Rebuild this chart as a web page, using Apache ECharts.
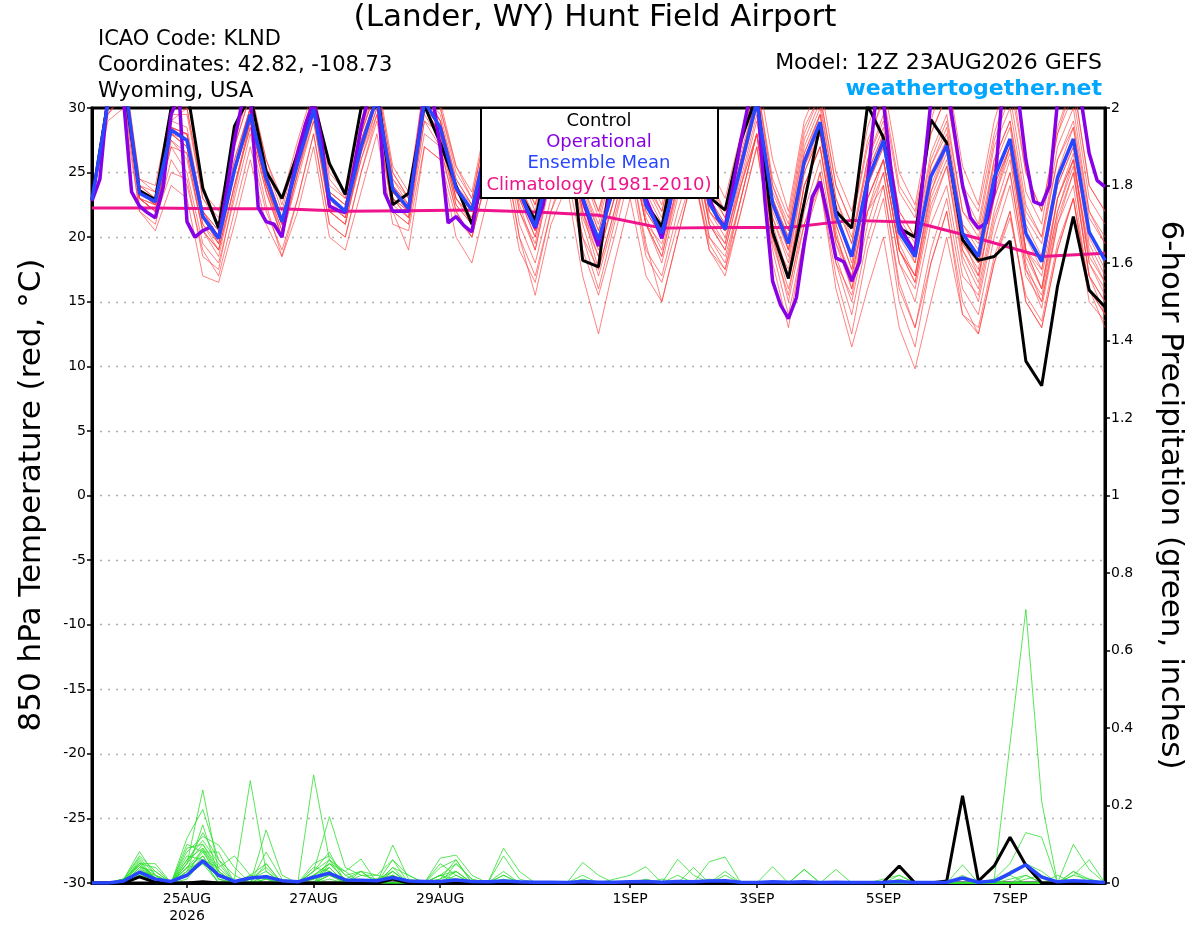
<!DOCTYPE html>
<html><head><meta charset="utf-8">
<script src="https://cdn.jsdelivr.net/npm/echarts@6/dist/echarts.min.js"></script>
<style>html,body{margin:0;padding:0;background:#fff}#c{width:1200px;height:927px}</style>
</head><body><div id="c"></div>
<script>
// ---------------- DATA ----------------
const STEP6 = 6, STEP3 = 3;           // hours between points
const tickHours = [36, 84, 132, 204, 252, 300, 348];
const tickLabels = ['25AUG\n2026', '27AUG', '29AUG', '1SEP', '3SEP', '5SEP', '7SEP'];

const controlT = [22.9,30.5,32,23.6, 22.9,30,31.5,23.8, 20.7,28.6,31,25.1, 23.0,26.5,30.5,25.7, 23.3,30,31.5,22.5, 23.4,30.2,27.3,24.0, 21.0,26,29,23.5, 21.3,27,30,18.2, 17.7,27,30,22.6, 20.8,27,29.5,23.1, 22.1,27.5,31,20.4, 16.8,22.7,28.7,22.0, 20.7,30.2,27.7,20.7, 20.0,29.1,27.3,19.8, 18.2,18.5,19.7,10.4, 8.5,16.2,21.6,15.9, 14.6];
const meanT = [22.9,30.3,32.6,23.4, 22.75,28.3,27.5,21.6, 19.9,25.2,29.5,24.6, 21.2,25.8,29.9,23.1, 22.0,27.0,30.8,23.7, 22.2,30.5,28.5,23.8, 22.1,27.5,29.5,23.5, 20.8,26,28.5,23, 19.8,24,28,22.5, 20.3,25,28,22.6, 20.6,25.5,30.5,22.6, 19.5,25.85,28.9,21.7, 18.5,24.4,27.5,20.4, 18.5,24.7,27.1,20.3, 18.5,24.6,27.6,20.3, 18.1,24.6,27.6,20.4, 18.2];
// operational run, 3-hourly
const operT = [22.8,24.5,31,32.5,30.5,23.5,22.4,21.9, 21.5,23.9,29.5,31,21.2,20.0,20.5,20.8, 19.9,23.5,27.5,30.5,31,22.3,21.2,21.0, 20.0,23.5,26.5,28.8,30.5,27.5,22.4,22.1, 21.9,25,28.5,31,32,23.4,22.0,22.0, 22.0,26.5,31,31,26.9,21.1,21.6,20.9, 20.4,24,27,29,29.5,27,23.8,22.0, 20.7,22.5,26,28.5,29.5,27,23,21, 19.3,22,25.5,28.5,29.5,27,23,21.5, 19.9,22.5,25.5,28.5,29.5,27,23,21.5, 20.8,24,27.5,30.5,31.5,23,16.6,14.75, 13.7,15.3,19.5,23.1,24.3,21.5,18.4,18.1, 16.6,18.1,24.3,30.5,30.5,25,21,19.8, 18.8,24.5,30.5,32,32,28,24,21.5, 20.7,21.1,23.5,31,32,31,26,22.75, 22.5,24.0,30.5,32,32,30.5,26.5,24.4, 23.9];
// climatology, daily at 12Z
const climHours = [0,24,48,72,96,120,144,168,192,216,240,264,288,312,336,360,384];
const climT = [22.25,22.25,22.2,22.2,22.0,22.05,22.1,21.95,21.7,20.7,20.75,20.75,21.3,21.15,19.9,18.5,18.75];

const tempM01 = [23,31,33,24, 23.5,29,30,23, 21,27,31,25.5, 22,27,31,24, 23,28,32,25, 23,31,30,25, 23,29,31,25, 22,28,30,25, 22,26,30,24, 22,27,30,24, 22,27,32,24, 21,28,31,24, 21,27,31,24, 22,28,31,24, 22,28,32,25, 22,28,32,24, 22];
const tempM02 = [22.8,29.5,31,22, 21,26,24,19, 17,22,27,22, 19,23,28,21, 20,25,29,22, 21,28,27,22, 20,25,28,21, 18,23,26,20, 16,21,26,19, 17,22,26,20, 18,23,28,20, 15,21,25,18, 14,20,24,16, 13,19,23,16, 14,20,24,17, 15,21,25,17, 15];
const tempM03 = [22.9,30,32,23, 22,28,27,21, 19,25,29,24, 20.5,25,30,22.5, 21.5,27,31,23, 22,30,28,23, 21.5,27,29,23, 20,26,28,22, 19,23,27,21, 19.5,24,27,21.5, 19.5,25,30,21.5, 18,25,28,20, 17,23,26,19, 16.5,23,26,19, 17,23,27,19, 16,23,26,19, 16.5];
const tempM04 = [23,30.5,33,24, 23,29,28.5,22, 20.5,26,30,25, 21.5,26.5,30.5,23.5, 22.5,27.5,31,24.5, 22.5,31,29,24.5, 22.5,28,30,24, 21.5,27,29.5,24, 20.5,25,29,23.5, 21,26,29,23.5, 21.5,26.5,31,23.5, 20.5,27,30,23, 20,26,29,22, 20,26,29,22, 20,26,29,22, 20,26,29,22, 20];
const tempM05 = [22.8,29,30,22, 20.5,24,23,17, 16.5,21,26,21, 18.5,22,27,20, 19,23.5,28,21, 20.5,27,26,21.5, 20,25,27,20, 17,22,25,19, 15.5,20,25,18.5, 16.5,21,25,19.5, 17.5,22,27,19, 14,20,24,17, 12.5,19,23,15, 11.5,18,22,14, 13,18.5,22,15, 13,19,23,15, 13.5];
const tempM06 = [23,30,32.5,23.5, 22.5,28,28,22, 20,25.5,30,25, 21,26,30.5,23, 22,28,31.5,24, 22,31.5,29,24, 22,28.5,30,23.5, 20.5,27,29,23, 19.5,25,29,22.5, 20,26,29,22, 20.5,26,31,23, 19,26,29.5,22, 18,25,28,21, 18,25.5,28.5,21, 19,26,29,21, 18.5,25,28.5,20.5, 18];
const tempM07 = [22.9,30.5,32,23, 22,27.5,26,20.5, 18.5,24,29,24, 20,25,29.5,22, 21,26.5,30.5,23, 21.5,30,28,23, 21,27,29,22.5, 19,25,28,22, 17.5,22,27,21, 18.5,23.5,27.5,21, 19.5,24.5,29.5,21, 17,24,27,19.5, 16,22,25,18, 15,21,24,17, 15.5,21.5,25,17.5, 14.5,21,24,16, 14];
const tempM08 = [23,31,33.5,24.5, 23.5,29.5,29.5,23, 21.5,27,31,26, 22.5,27,31,24.5, 23,28.5,32,25, 23,32,30,25.5, 23,29,31,25, 22.5,28,31,25.5, 22,27,31,25, 22.5,28,31,25.5, 23,28,33,26, 22,29,32,25, 22,28.5,32,25, 22.5,29,33,25.5, 22.5,29,33,25, 22,28.5,32,24, 22];
const tempM09 = [22.8,30,32,23, 22.5,28,27,21.5, 19.5,25,29,24, 21,25.5,29.5,23, 21.5,26,30,23, 21.5,29,27,22, 20,25,27,20, 15.5,21,24,17, 12.5,18,23,17, 15,20,25,19, 17.5,23,28,20.5, 17,24,27,20, 16.5,23,26,19, 17,23.5,27,19.5, 17.5,24,27,19, 17,23,26,18, 16];
const tempM10 = [23,30,32.5,23.5, 22.5,28.5,27.5,21.5, 20,25,29.5,24.5, 21,26,30,23, 22,27,30.5,23.5, 22,30,28.5,23.5, 22,27.5,29.5,23, 21,26,28,22.5, 19.5,24,28,22, 20,25,28,22, 20,24,28,20, 16,21,24,16, 11.5,16,20,13, 9.8,15,20,14, 12.5,18,22,15, 13,19,23,16, 14];
const tempM11 = [22.9,30,32,23, 22,27,25,19.5, 18,23,28,22.5, 18.5,23,28,21, 20,25,29.5,22, 21,29,28,22.5, 21,26.5,28.5,22, 19.5,25,28,21.5, 18.5,23,27.5,21.5, 19,24,27.5,21, 19,24,29,21.5, 18.5,25,28,21, 17.5,24,27,20, 18,24.5,27.5,20, 17,23,26.5,19, 16,22,26,18.5, 16.5];
const tempM12 = [23,30.5,33,24, 23,28.5,28,22, 20.5,26,30,25, 21.5,26,30,23.5, 22.5,27.5,31,24, 22.5,31,29,24, 22.5,28,30,24, 21,26.5,29,23.5, 20.5,24.5,28.5,23, 20.5,25.5,28.5,23, 21,26,31,23, 20,26.5,29.5,22.5, 19.5,25.5,28.5,21.5, 19.5,25.5,28,21, 19.5,25.5,28.5,21.5, 19.5,26,28.5,21.5, 19.5];
const tempM13 = [22.8,29.5,31.5,23, 22,27,26.5,20.5, 19,24,28.5,23.5, 20,25,29,22, 21,26.5,30,22.5, 21.5,29.5,27.5,22.5, 21,26.5,28.5,22, 19,24.5,27,21, 17,21.5,26,19.5, 15,20,25,19, 17,22,27,19.5, 15.5,22,26,18.5, 15,21,25,18, 16,22,25.5,18, 15,21,25,17.5, 15.5,22,25.5,17, 15];
const tempM14 = [23,31,33,24.5, 24,30,30,23.5, 22,27.5,31.5,26, 23,27.5,31.5,25, 23.5,29,32.5,25.5, 23.5,32,30.5,25.5, 23.5,29.5,31.5,25.5, 22.5,28,30.5,25, 21.5,26.5,30.5,24.5, 22,27.5,30.5,24.5, 22,27.5,32,24.5, 21.5,28.5,31,24, 21,27.5,30.5,23.5, 21.5,28,31,23.5, 21,27.5,31,23.5, 21,28,31,23, 21];
const tempM15 = [22.9,30,32.5,23.5, 22.5,28,27,21, 19.5,25,29,24, 20.5,25.5,29.5,22.5, 21.5,27,30.5,23, 22,30,28,23, 21.5,27,29,23, 20,25.5,28,22, 18.5,23,27,21, 18,23,26.5,20, 18.5,23,28,20, 17.5,24,27,19.5, 17,23,26,19, 16.5,22.5,25.5,18.5, 16,22,26,18, 15,21.5,25,17, 14];
const tempM16 = [22.8,29.5,31,22.5, 21.5,25,24.5,18.5, 17.5,23.5,29,24, 21,26.5,30.5,23.5, 22.5,28,31.5,24.5, 23,31,29.5,24.5, 22.5,28.5,30,24, 21.5,27,29.5,24, 21,26,29.5,24, 21.5,27,30,24, 21.5,27,31.5,24, 20.5,27.5,30.5,23, 19.5,26,29.5,22, 20,26.5,29.5,22, 20.5,27,30,22.5, 20,27,30,22, 19.5];
const tempM17 = [23,30,32,23, 22.5,28,27.5,21.5, 19.5,25,29.5,24.5, 21,26,30,23, 22,27.5,31,24, 22.5,30.5,29,24, 22,28,30,23.5, 21,26.5,29,23, 20,24.5,28.5,22.5, 20.5,25.5,28.5,22.5, 20.5,26,30.5,22.5, 19,25.5,28,20.5, 16,22,24,16.5, 13,18,22,15, 12.5,18,21.5,15.5, 13.5,19.5,23,16, 13];
const tempM18 = [22.9,30.5,32.5,23.5, 23,28.5,28,22, 20,25.5,30,25, 21,26,30,23, 22,27,31,23.5, 22,30.5,28.5,23.5, 22,27.5,29.5,23.5, 20.5,26,28.5,23, 20,24,28,22.5, 20.5,25,28.5,23, 21,26,30.5,23, 20,26.5,29.5,22, 18.5,25,28,21, 18.5,25,27.5,20.5, 18,24.5,27.5,20, 17.5,24,27,20, 17.5];
const tempM19 = [22.8,30,32,23, 22,27.5,26.5,20.5, 19,24,28.5,23.5, 20,24.5,29,22, 21,26,29.5,22, 19,27,26,20, 18,23,26,19, 16.5,22,26,20, 17.5,22,27,21, 18.5,24,27,21, 19,24,28,18, 13,20,25,18, 15.5,22,26,19, 17,23.5,26.5,19.5, 18,24,27,19, 17.5,24,27,19.5, 17];
const tempM20 = [23,30,32.5,23.5, 22.5,28.5,28,21.5, 20,25,29.5,24.5, 21,26,30,23, 22,27,30.5,23.5, 22,30.5,28.5,23.5, 22,27.5,29.5,23.5, 20.5,26,28.5,22.5, 19.5,24,28,22, 20,25,28,22, 20.5,25.5,30,22, 19,25.5,28.5,21, 17.5,24,27,19.5, 17,24,27,19, 16.5,23.5,27,18.5, 16,23,26.5,18, 15.5];

const controlP = [0,0,0,0.016, 0.002,0,0,0.003, 0,0,0,0, 0,0,0,0, 0,0,0,0.01, 0,0,0,0, 0,0,0,0, 0,0,0,0, 0,0,0,0, 0,0,0,0, 0,0,0,0, 0,0,0,0, 0,0,0.002,0.044, 0,0,0.005,0.225, 0.005,0.044,0.118,0.046, 0,0,0,0, 0];
const meanP = [0,0,0.005,0.028, 0.01,0.004,0.02,0.057, 0.02,0.004,0.013,0.016, 0.006,0.003,0.015,0.025, 0.008,0.007,0.006,0.014, 0.005,0.004,0.004,0.008, 0.004,0.003,0.005,0.003, 0.002,0.002,0.001,0.004, 0.002,0.002,0.003,0.004, 0.002,0.004,0.003,0.005, 0.006,0.002,0.001,0.003, 0.002,0.003,0.001,0.002, 0.001,0.001,0.002,0.004, 0.001,0.001,0.002,0.013, 0.002,0.005,0.025,0.047, 0.015,0.003,0.006,0.004, 0.001];

const precM01 = [0,0,0.01,0.081, 0.02,0,0.05,0.24, 0.03,0,0.02,0.01, 0,0,0.02,0.05, 0.01,0,0,0.098, 0.01,0,0.02,0.01, 0,0,0.03,0, 0,0,0,0, 0,0,0,0.01, 0,0,0,0, 0,0,0,0, 0,0,0,0, 0,0,0,0, 0,0,0,0, 0,0,0.01,0.02, 0,0,0,0, 0];
const precM02 = [0,0,0.005,0.06, 0.01,0,0.116,0.19, 0.06,0.02,0,0.137, 0.02,0,0.01,0.03, 0,0.02,0.01,0.03, 0,0,0.05,0.02, 0,0,0.09,0.03, 0,0,0,0.053, 0.02,0,0,0, 0,0,0,0, 0,0,0,0, 0,0,0,0, 0,0,0,0, 0,0,0,0.047, 0,0.01,0.05,0.13, 0.118,0,0.03,0.01, 0];
const precM03 = [0,0,0.01,0.05, 0.04,0,0.03,0.15, 0.02,0.01,0.264,0.03, 0,0,0,0.02, 0.01,0.03,0,0.02, 0,0,0.064,0.072, 0.02,0,0,0, 0,0,0,0, 0,0.01,0.02,0.042, 0,0.061,0.02,0, 0.03,0,0,0, 0,0,0,0, 0,0,0,0, 0,0,0,0, 0,0.01,0.36,0.706, 0.21,0,0,0, 0];
const precM04 = [0,0,0,0.04, 0.01,0,0.08,0.12, 0.098,0.04,0,0.08, 0.01,0,0.279,0.06, 0.03,0.062,0,0.01, 0,0,0.01,0.06, 0,0,0.07,0.01, 0,0,0,0.02, 0,0,0,0, 0,0,0,0.055, 0.067,0,0,0, 0,0,0,0, 0,0,0,0, 0,0,0,0, 0,0,0,0.02, 0,0,0.1,0.035, 0];
const precM05 = [0,0,0.005,0.03, 0.02,0,0.05,0.1, 0.04,0.07,0.02,0.05, 0,0,0.03,0.171, 0.04,0.02,0.02,0.06, 0,0,0,0.05, 0.01,0,0,0, 0,0,0,0, 0,0,0,0, 0.01,0,0,0, 0,0,0,0.042, 0,0,0,0, 0,0,0,0, 0,0,0,0.01, 0,0,0.03,0.05, 0.03,0,0.02,0.06, 0];
const precM06 = [0,0,0,0.02, 0,0,0.03,0.08, 0.08,0,0,0, 0,0,0.05,0.07, 0.02,0.03,0,0.04, 0.02,0,0,0.03, 0,0,0.02,0, 0,0,0,0, 0,0,0,0, 0,0,0.04,0, 0,0,0,0, 0,0.035,0,0.035, 0,0,0,0, 0,0,0,0, 0,0,0,0, 0,0,0,0, 0];
const precM07 = [0,0,0.01,0.07, 0.03,0,0.06,0.11, 0.05,0,0.01,0.02, 0,0,0.04,0.03, 0,0,0.01,0.02, 0,0,0,0.01, 0,0,0,0, 0,0,0,0, 0,0,0,0, 0,0,0,0, 0,0,0,0, 0,0,0,0, 0,0,0,0.02, 0,0,0,0.02, 0,0,0,0, 0,0,0,0, 0];
const precM08 = [0,0,0,0.035, 0.015,0,0.02,0.09, 0.03,0,0.01,0.04, 0,0,0.02,0.04, 0,0.03,0.02,0.01, 0,0,0.04,0.06, 0,0,0.02,0, 0,0,0,0, 0,0,0,0, 0,0.02,0,0.01, 0,0,0,0, 0,0.035,0,0, 0,0,0,0, 0,0,0,0, 0,0,0,0, 0,0,0.03,0, 0];
const precM09 = [0,0,0,0.05, 0.01,0,0.1,0.08, 0.02,0,0,0.02, 0,0,0.03,0.06, 0,0,0,0, 0,0,0.02,0.05, 0.01,0,0,0, 0,0,0,0, 0,0,0,0, 0,0,0,0, 0,0,0,0, 0,0,0,0, 0,0,0,0, 0,0,0,0, 0,0,0,0.01, 0.02,0,0,0, 0];
const precM10 = [0,0,0.01,0.045, 0.02,0,0.04,0.07, 0.01,0,0.02,0, 0,0,0,0.05, 0.01,0,0,0.06, 0.02,0,0,0, 0,0,0.01,0, 0,0,0,0.01, 0,0,0,0, 0,0,0,0, 0,0,0,0, 0,0,0,0, 0,0,0,0, 0,0,0,0, 0,0,0,0, 0,0,0,0, 0];
const precM11 = [0,0,0,0.025, 0,0,0.07,0.06, 0.04,0,0,0, 0,0,0.01,0.04, 0,0,0,0.03, 0,0,0,0, 0,0,0,0, 0,0,0,0, 0,0,0,0, 0,0,0,0, 0.02,0,0,0, 0,0,0,0, 0,0,0,0.01, 0,0,0,0, 0,0,0,0, 0,0,0,0, 0];
const precM12 = [0,0,0.005,0.055, 0.01,0,0.05,0.13, 0.06,0,0,0.02, 0,0,0.02,0.05, 0.03,0,0,0.02, 0,0,0.01,0.03, 0,0,0,0, 0,0,0,0, 0,0,0,0, 0,0,0,0, 0,0,0,0, 0,0,0,0, 0,0,0,0, 0,0,0,0, 0,0,0.02,0, 0,0,0,0, 0];
const precM13 = [0,0,0,0.03, 0,0,0.02,0.05, 0.02,0,0,0.01, 0,0,0,0.02, 0,0,0,0, 0,0,0,0.02, 0,0,0,0, 0,0,0,0, 0,0,0,0, 0,0,0,0, 0,0,0,0, 0,0,0,0, 0,0,0,0, 0,0,0,0, 0,0,0,0, 0,0,0.02,0.01, 0];
const precM14 = [0,0,0.01,0.065, 0.02,0,0.09,0.1, 0.03,0,0,0.05, 0,0,0.03,0.08, 0,0,0,0.04, 0,0,0,0, 0,0,0,0, 0,0,0,0, 0,0,0,0, 0,0,0,0, 0,0,0,0, 0,0,0,0, 0,0,0,0, 0,0,0,0, 0,0,0,0, 0,0,0,0, 0];
const precM15 = [0,0,0,0.02, 0.01,0,0.01,0.06, 0,0,0,0, 0,0,0,0.03, 0,0,0.01,0, 0,0,0.02,0, 0,0,0,0, 0,0,0,0, 0,0,0,0, 0,0,0,0, 0,0,0,0, 0,0,0,0, 0,0,0,0, 0,0,0,0, 0,0,0,0, 0,0,0,0, 0];
const precM16 = [0,0,0,0.04, 0.03,0,0.06,0.09, 0.02,0,0.01,0.03, 0,0,0.01,0.03, 0,0,0,0.02, 0,0,0,0, 0,0,0,0, 0,0,0,0, 0,0,0,0, 0,0,0,0, 0,0,0,0, 0,0,0,0, 0,0,0,0, 0,0,0,0, 0,0,0,0, 0,0.02,0,0, 0];
const precM17 = [0,0,0.01,0.05, 0.05,0,0.04,0.085, 0.01,0,0,0, 0,0,0,0.06, 0.02,0,0,0, 0,0,0,0, 0,0,0,0, 0,0,0,0, 0,0,0,0, 0,0,0,0, 0,0,0,0, 0,0,0,0, 0,0,0.01,0.02, 0,0,0,0, 0,0,0,0, 0,0,0,0, 0];
const precM18 = [0,0,0,0.03, 0.01,0,0.02,0.07, 0.01,0,0,0, 0,0,0,0.04, 0,0,0,0, 0,0,0,0, 0,0,0,0, 0,0,0,0, 0,0,0,0, 0,0,0,0, 0,0,0,0, 0,0,0,0, 0,0,0,0, 0,0,0,0, 0,0,0,0, 0,0,0,0, 0];
const precM19 = [0,0,0.005,0.045, 0.01,0,0.03,0.06, 0,0,0,0.01, 0,0,0,0.02, 0,0,0,0.03, 0,0,0.02,0.03, 0,0,0,0, 0,0,0,0, 0,0,0,0, 0,0,0,0, 0,0,0,0, 0,0,0,0, 0,0,0,0, 0,0,0,0, 0,0,0,0, 0,0,0,0, 0];
const precM20 = [0,0,0,0.02, 0,0,0.04,0.05, 0,0,0,0, 0,0,0,0.01, 0,0,0,0, 0,0,0,0, 0,0,0,0, 0,0,0,0, 0,0,0,0, 0,0,0,0, 0,0,0,0, 0,0,0,0, 0,0,0,0, 0,0,0,0, 0,0,0,0, 0,0,0,0, 0];

const tempMembers = [tempM01,tempM02,tempM03,tempM04,tempM05,tempM06,tempM07,tempM08,tempM09,tempM10,tempM11,tempM12,tempM13,tempM14,tempM15,tempM16,tempM17,tempM18,tempM19,tempM20];
const precMembers = [precM01,precM02,precM03,precM04,precM05,precM06,precM07,precM08,precM09,precM10,precM11,precM12,precM13,precM14,precM15,precM16,precM17,precM18,precM19,precM20];

// ---------------- CHART ----------------
const FONT = '"DejaVu Sans", Verdana, sans-serif';
const toPts = (arr, step) => arr.map((v, i) => [i * step, v]);

function line(name, data, color, width, yIdx, z) {
  return { name, type: 'line', data, yAxisIndex: yIdx, symbol: 'none', showSymbol: false,
    lineStyle: { color, width }, z, silent: true, animation: false, clip: true };
}

const series = [];
tempMembers.forEach((m, k) => series.push(line('tm' + k, toPts(m, STEP6), 'rgba(255,60,60,0.8)', 0.8, 0, 2)));
precMembers.forEach((m, k) => series.push(line('pm' + k, toPts(m, STEP6), '#2ee02e', 0.8, 1, 2)));
series.push(line('Climatology', climHours.map((h, i) => [h, climT[i]]), '#f0148c', 3, 0, 3));
series.push(line('ControlP', toPts(controlP, STEP6), '#000', 3, 1, 4));
series.push(line('MeanP', toPts(meanP, STEP6), '#2846ff', 3.5, 1, 5));
series.push(line('Control', toPts(controlT, STEP6), '#000', 3, 0, 4));
series.push(line('Operational', toPts(operT, STEP3), '#8700e6', 3.5, 0, 4));
series.push(line('Ensemble Mean', toPts(meanT, STEP6), '#2846ff', 3.5, 0, 5));

const chart = echarts.init(document.getElementById('c'), null, { renderer: 'canvas' });
chart.setOption({
  animation: false,
  backgroundColor: '#fff',
  grid: { left: 92, right: 95, top: 108, bottom: 44, show: true, borderColor: '#000', borderWidth: 3, backgroundColor: 'transparent' },
  xAxis: {
    type: 'value', min: 0, max: 384,
    axisLine: { show: true, onZero: false, lineStyle: { color: '#000', width: 3 } },
    axisTick: { show: true, customValues: tickHours, length: 5, lineStyle: { color: '#000', width: 1.5 } },
    axisLabel: { customValues: tickHours, formatter: v => tickLabels[tickHours.indexOf(v)] || '', color: '#000', fontSize: 14, fontFamily: FONT, lineHeight: 17, margin: 8 },
    splitLine: { show: false }
  },
  yAxis: [
    { type: 'value', min: -30, max: 30, interval: 5, position: 'left',
      axisLine: { show: true, onZero: false, lineStyle: { color: '#000', width: 3 } },
      axisTick: { show: true, length: 5, lineStyle: { color: '#000', width: 1.5 } },
      axisLabel: { color: '#000', fontSize: 14, fontFamily: FONT, margin: 6 },
      splitLine: { show: true, showMinLine: false, showMaxLine: false, lineStyle: { color: '#b0b0b0', type: [2, 6], width: 1.3 } } },
    { type: 'value', min: 0, max: 2, interval: 0.2, position: 'right',
      axisLine: { show: true, onZero: false, lineStyle: { color: '#000', width: 3 } },
      axisTick: { show: true, length: 5, lineStyle: { color: '#000', width: 1.5 } },
      axisLabel: { color: '#000', fontSize: 14, fontFamily: FONT, margin: 6 },
      splitLine: { show: false } }
  ],
  series,
  graphic: [
    { type: 'text', x: 595, y: 18, style: { text: '(Lander, WY) Hunt Field Airport', font: '31px ' + FONT, fill: '#000', textAlign: 'center', textVerticalAlign: 'middle' } },
    { type: 'text', x: 98, y: 40, style: { text: 'ICAO Code: KLND', font: '21px ' + FONT, fill: '#000', textVerticalAlign: 'middle' } },
    { type: 'text', x: 98, y: 66, style: { text: 'Coordinates: 42.82, -108.73', font: '21px ' + FONT, fill: '#000', textVerticalAlign: 'middle' } },
    { type: 'text', x: 98, y: 92, style: { text: 'Wyoming, USA', font: '21px ' + FONT, fill: '#000', textVerticalAlign: 'middle' } },
    { type: 'text', x: 1102, y: 63, style: { text: 'Model: 12Z 23AUG2026 GEFS', font: '22px ' + FONT, fill: '#000', textAlign: 'right', textVerticalAlign: 'middle' } },
    { type: 'text', x: 1102, y: 89, style: { text: 'weathertogether.net', font: 'bold 22px ' + FONT, fill: '#00a6ff', textAlign: 'right', textVerticalAlign: 'middle' } },
    { type: 'text', x: 32, y: 495, rotation: Math.PI / 2, style: { text: '850 hPa Temperature (red, °C)', font: '31px ' + FONT, fill: '#000', textAlign: 'center', textVerticalAlign: 'middle' } },
    { type: 'text', x: 1170, y: 495, rotation: -Math.PI / 2, style: { text: '6-hour Precipitation (green, inches)', font: '31px ' + FONT, fill: '#000', textAlign: 'center', textVerticalAlign: 'middle' } },
    { type: 'rect', z: 100, shape: { x: 481, y: 108, width: 237, height: 90 }, style: { fill: '#fff', stroke: '#000', lineWidth: 2 } },
    { type: 'text', z: 101, x: 599, y: 121, style: { text: 'Control', font: '18px ' + FONT, fill: '#000', textAlign: 'center', textVerticalAlign: 'middle' } },
    { type: 'text', z: 101, x: 599, y: 142, style: { text: 'Operational', font: '18px ' + FONT, fill: '#8700e6', textAlign: 'center', textVerticalAlign: 'middle' } },
    { type: 'text', z: 101, x: 599, y: 163, style: { text: 'Ensemble Mean', font: '18px ' + FONT, fill: '#2846ff', textAlign: 'center', textVerticalAlign: 'middle' } },
    { type: 'text', z: 101, x: 599, y: 185, style: { text: 'Climatology (1981-2010)', font: '18px ' + FONT, fill: '#f0148c', textAlign: 'center', textVerticalAlign: 'middle' } }
  ]
});
</script></body></html>
